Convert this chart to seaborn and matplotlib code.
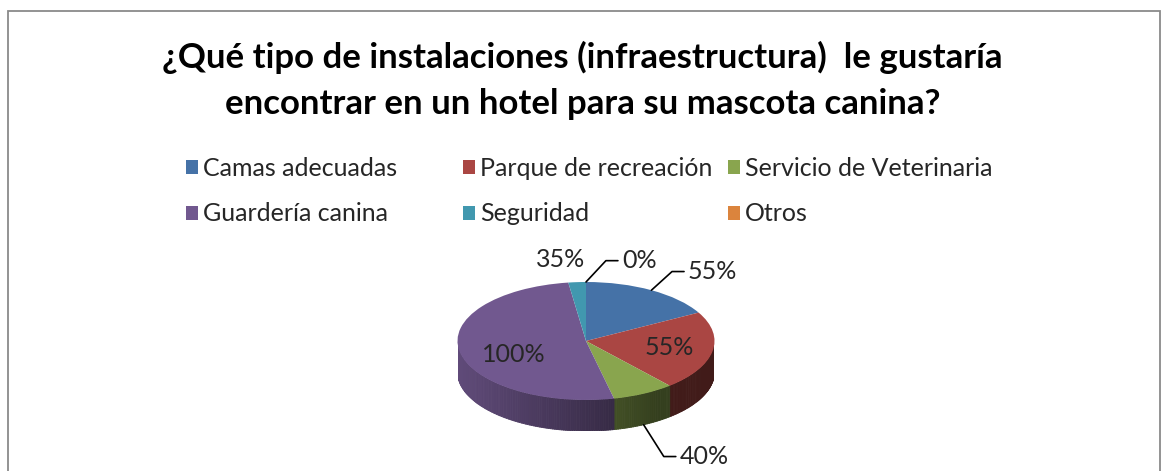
import matplotlib
matplotlib.use("Agg")
import matplotlib.pyplot as plt
from matplotlib.patches import Rectangle
from matplotlib.collections import PolyCollection
import matplotlib.colors as mcolors
import seaborn as sns
import numpy as np

# data
categories = ["Camas adecuadas", "Parque de recreación", "Servicio de Veterinaria",
              "Guardería canina", "Seguridad", "Otros"]
# percentages printed on the chart
pct_labels = ["55%", "55%", "40%", "100%", "35%", "0%"]
# share of the circle each slice takes in the original picture
# (the original slices are not proportional to the printed percentages)
slice_share = [17.0, 21.7, 7.8, 51.3, 2.2, 0.0]
colors = ["#4572A7", "#AA4643", "#89A54E", "#71588F", "#4198AF", "#DB843D"]

title_lines = ["¿Qué tipo de instalaciones (infraestructura)  le gustaría",
               "encontrar en un hotel para su mascota canina?"]

sns.set_theme(style="white")
plt.rcParams["font.family"] = ["Lato", "DejaVu Sans"]

W, H = 1165, 471
fig = plt.figure(figsize=(W / 100, H / 100), dpi=100)

# border of the chart area (bottom edge is cut off in the original)
fig.add_artist(Rectangle((8 / W, -0.1), (1160 - 8) / W, (H - 11) / H + 0.1,
                         transform=fig.transFigure, fill=False,
                         edgecolor="#8a8a8a", linewidth=1.3))

# title
fig.text(0.5, 1 - 57 / H, title_lines[0], ha="center", va="center",
         fontsize=25, fontweight="bold", color="black")
fig.text(0.5, 1 - 104 / H, title_lines[1], ha="center", va="center",
         fontsize=25, fontweight="bold", color="black")

# pie axes: unit circle squashed into an ellipse, with room below for the side wall
cx, cy, rx, ry, depth_px = 586, 341, 128.5, 59, 31
depth = depth_px / ry
ax = fig.add_axes([(cx - rx) / W, (H - (cy + ry + depth_px)) / H,
                   2 * rx / W, (2 * ry + depth_px) / H])

wedges, _ = ax.pie(slice_share, colors=colors, startangle=90, counterclock=False,
                   radius=1, wedgeprops=dict(linewidth=0, zorder=3))
ax.set_aspect("auto")
ax.set_xlim(-1, 1)
ax.set_ylim(-1 - depth, 1)
ax.axis("off")

# side wall of the 3D pie (front half only), shaded by angle
polys, fcs = [], []
for w, c in zip(wedges, colors):
    base = np.array(mcolors.to_rgb(c))
    t = np.radians(np.arange(w.theta1, w.theta2 + 0.5, 1.0))
    if len(t) < 2:
        continue
    t[-1] = np.radians(w.theta2)
    for a, b in zip(t[:-1], t[1:]):
        m = (a + b) / 2
        if np.sin(m) >= 0:
            continue
        polys.append([(np.cos(a), np.sin(a)), (np.cos(b), np.sin(b)),
                      (np.cos(b), np.sin(b) - depth), (np.cos(a), np.sin(a) - depth)])
        shade = max(0.38, 0.55 - 0.3 * np.cos(m))
        fcs.append(base * shade)
ax.add_collection(PolyCollection(polys, facecolors=fcs, edgecolors=fcs,
                                 linewidths=0.6, zorder=2))

# data labels: radius / angle nudge per label, leader line for outside labels
label_r = [1.42, 0.66, 2.09, 0.61, 1.40, 1.39]
label_dang = [-3.4, 0.5, -6.2, 11.7, 4.2, -11.6]
leader = [True, False, True, False, False, True]
gap, hlen = 4 / rx, 12 / rx
for w, txt, r, da, ld in zip(wedges, pct_labels, label_r, label_dang, leader):
    mid = np.radians((w.theta1 + w.theta2) / 2)
    ang = mid + np.radians(da)
    tx, ty = r * np.cos(ang), r * np.sin(ang)
    if ld:
        sx, sy = np.cos(mid), np.sin(mid)
        if sy < 0:
            sy -= depth
        ax.plot([sx, tx - gap - hlen, tx - gap], [sy, ty, ty], color="black",
                linewidth=1.2, clip_on=False, zorder=4)
        ax.text(tx, ty, txt, ha="left", va="center", fontsize=18, clip_on=False, zorder=5)
    else:
        ax.text(tx, ty, txt, ha="center", va="center", fontsize=18, clip_on=False, zorder=5)

# legend: three columns of two rows
col_x = [186, 463, 728]
for k, x in enumerate(col_x):
    idx = [k, k + 3]
    fig.legend([wedges[i] for i in idx], [categories[i] for i in idx],
               loc="upper left", bbox_to_anchor=(x / W, 1 - 157 / H),
               frameon=False, fontsize=18, handlelength=0.48, handleheight=0.48,
               handletextpad=0.2, labelspacing=0.9, borderpad=0, borderaxespad=0)

fig.savefig("out.png", dpi=100)
